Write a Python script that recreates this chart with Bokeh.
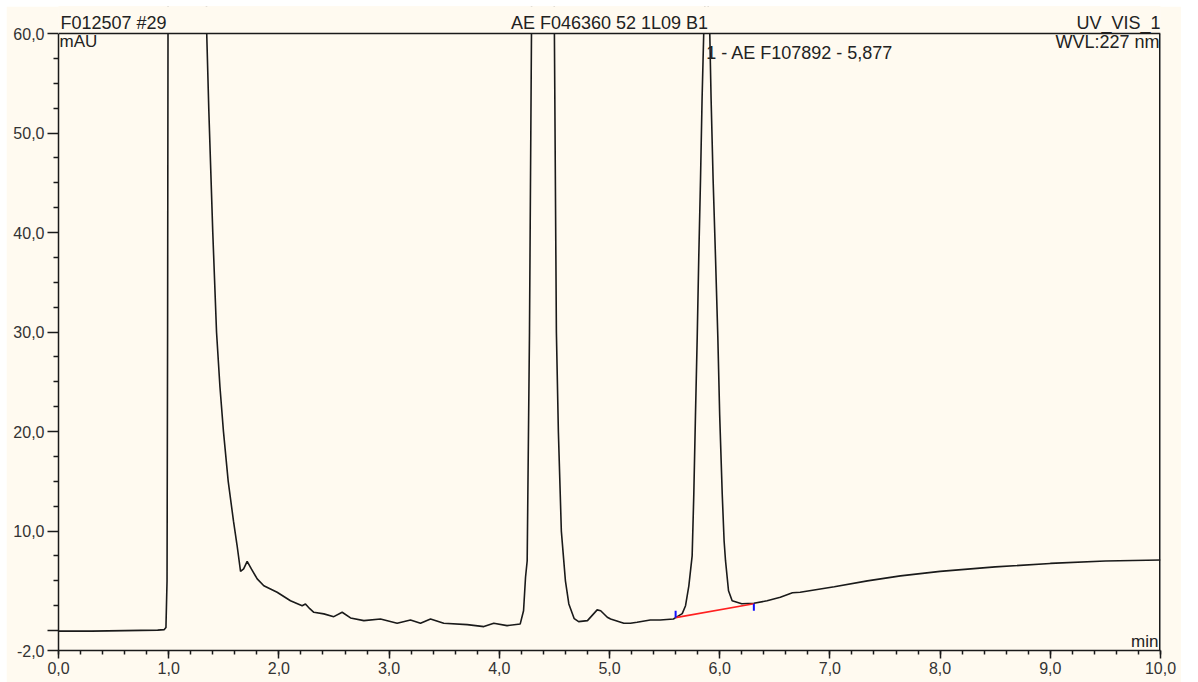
from bokeh.plotting import figure
from bokeh.models import (Range1d, FixedTicker, SingleIntervalTicker, CustomJSTickFormatter,
                          Label, Spacer, ColumnDataSource, BoxAnnotation, Span)
from bokeh.layouts import row, column
from bokeh.embed import file_html
from bokeh.resources import INLINE

# ---------------- data ----------------
time_min = [0.00, 0.30, 0.60, 0.90, 0.96, 0.975, 0.985, 0.99, 0.995, 1.00, 1.15, 1.33,
            1.345, 1.364, 1.40, 1.434, 1.465, 1.497, 1.54, 1.588, 1.62, 1.652, 1.68, 1.712,
            1.75, 1.803, 1.863, 1.984, 2.105, 2.211, 2.241, 2.28, 2.317, 2.408, 2.498, 2.574,
            2.65, 2.771, 2.922, 3.073, 3.194, 3.285, 3.376, 3.496, 3.709, 3.86, 3.95, 4.07,
            4.19, 4.22, 4.238, 4.253, 4.274, 4.292, 4.31, 4.39, 4.48, 4.50, 4.518, 4.536,
            4.563, 4.60, 4.631, 4.68, 4.72, 4.80, 4.888, 4.92, 4.98, 5.01, 5.13, 5.19, 5.25,
            5.37, 5.46, 5.58, 5.60, 5.66, 5.69, 5.72, 5.75, 5.765, 5.78, 5.796, 5.81, 5.826,
            5.84, 5.855, 5.877, 5.90, 5.91, 5.922, 5.94, 5.962, 5.983, 6.00, 6.023, 6.04,
            6.053, 6.08, 6.113, 6.20, 6.31, 6.43, 6.55, 6.66, 6.73, 7.04, 7.34, 7.64, 8.0,
            8.5, 9.0, 9.5, 10.0]
signal_mau = [-0.05, -0.05, 0.0, 0.05, 0.1, 0.3, 5, 30, 70, 120, 400, 80,
              60, 52.3, 40.0, 30.0, 24.5, 20.0, 15.0, 11.0, 8.6, 5.96, 6.2, 6.96,
              6.2, 5.2, 4.5, 3.85, 3.0, 2.5, 2.68, 2.2, 1.84, 1.68, 1.4, 1.84,
              1.27, 1.0, 1.17, 0.74, 1.07, 0.74, 1.17, 0.74, 0.6, 0.4, 0.74, 0.5,
              0.67, 2.0, 5.36, 7.0, 30, 60, 120, 250, 100, 60, 30, 20,
              10, 5, 2.68, 1.2, 0.9, 1.0, 2.08, 2.0, 1.34, 1.17, 0.74, 0.74, 0.84,
              1.07, 1.07, 1.17, 1.3, 1.7, 2.5, 4.5, 7.5, 13.7, 21.6, 29.5, 37.5, 45.4,
              53.4, 60, 66, 62, 60, 53.4, 45.4, 37.5, 29.5, 21.6, 13.7, 9.0,
              7.0, 4.0, 3.0, 2.7, 2.75, 3.0, 3.35, 3.8, 3.85, 4.4, 5.0, 5.5, 5.95,
              6.4, 6.75, 7.0, 7.1]

# integration baseline of peak 1 and its delimiters
baseline_x = [5.60, 6.31]
baseline_y = [1.3, 2.7]
delim_x = [5.60, 6.31]
delim_y0 = [1.3, 2.7]
delim_y1 = [2.0, 2.0]

x_min, x_max = 0, 10
y_min, y_max = -2, 60
y_major_ticks = [-2, 0, 10, 20, 30, 40, 50, 60]
y_minor_ticks = [2.5, 5, 7.5, 12.5, 15, 17.5, 22.5, 25, 27.5, 32.5, 35, 37.5,
                 42.5, 45, 47.5, 52.5, 55, 57.5]

header_left = "F012507 #29"
header_center = "AE F046360 52 1L09 B1"
header_right = "UV_VIS_1"
y_unit = "mAU"
wavelength = "WVL:227 nm"
x_unit = "min"
peak_label = "1 - AE F107892 - 5,877"
peak_rt = 5.877

# ---------------- figure ----------------
CREAM = "#fffaf0"
FONT = "Liberation Sans"
TXT = "#222222"
DARK = "#1a1a1a"

# extra headroom above 60 holds the header line (covered by a cream box)
px_per_unit = 617.0 / (y_max - y_min)
y_top = y_max + 27.0 / px_per_unit

p = figure(width=1175, height=676, output_backend="svg", toolbar_location=None,
           title=None, x_range=Range1d(x_min, x_max), y_range=Range1d(y_min, y_top),
           min_border_left=52, min_border_right=21, min_border_top=0, min_border_bottom=32,
           background_fill_color=CREAM, border_fill_color=CREAM)
p.grid.visible = False
p.outline_line_color = None

# axes
p.xaxis.ticker = SingleIntervalTicker(interval=1, num_minor_ticks=5)
p.yaxis.ticker = FixedTicker(ticks=y_major_ticks, minor_ticks=y_minor_ticks)
p.xaxis.formatter = CustomJSTickFormatter(code="return tick.toFixed(1).replace('.', ',');")
p.yaxis.formatter = CustomJSTickFormatter(
    code="return tick === 0 ? '' : tick.toFixed(1).replace('.', ',');")
p.yaxis.bounds = (y_min, y_max)
for ax in (p.xaxis[0], p.yaxis[0]):
    ax.axis_line_color = DARK
    ax.axis_line_width = 1.5
    ax.major_tick_line_color = DARK
    ax.major_tick_line_width = 1.5
    ax.minor_tick_line_color = DARK
    ax.minor_tick_line_width = 1.5
    ax.major_tick_in = 0
    ax.minor_tick_in = 0
    ax.major_label_text_font = FONT
    ax.major_label_text_font_size = "16px"
    ax.major_label_text_color = "#333333"
p.xaxis.major_tick_out = 8
p.xaxis.minor_tick_out = 4
p.xaxis.major_label_standoff = 3
p.yaxis.major_tick_out = 11
p.yaxis.minor_tick_out = 5
p.yaxis.major_label_standoff = 3

# chromatogram trace
src = ColumnDataSource(dict(x=time_min, y=signal_mau))
p.line("x", "y", source=src, line_color=DARK, line_width=1.6)

# integration baseline + delimiters
p.line(baseline_x, baseline_y, line_color="#ff2020", line_width=1.6)
p.segment(x0=delim_x, y0=delim_y0, x1=delim_x, y1=delim_y1, line_color="#1010ff", line_width=2)

# right border of the plot area
p.segment(x0=[x_max], y0=[y_min], x1=[x_max], y1=[y_max], line_color=DARK, line_width=3)

# cover everything above the 60 mAU limit, then draw top border
p.add_layout(BoxAnnotation(bottom=y_max, top=y_top + 20, left=x_min - 1, right=x_max + 1,
                           fill_color=CREAM, fill_alpha=1.0, line_color=None))
p.add_layout(Span(location=y_top, dimension="width", line_color=CREAM, line_width=6))
p.add_layout(Span(location=y_max, dimension="width", line_color=DARK, line_width=1.5))

# texts
def lab(x, y, text, align, baseline, xo=0, yo=0, size="18px"):
    p.add_layout(Label(x=x, y=y, text=text, text_align=align, text_baseline=baseline,
                       x_offset=xo, y_offset=yo, text_font=FONT, text_font_size=size,
                       text_color=TXT))

lab(x_min, y_max, header_left, "left", "alphabetic", xo=2, yo=11)
lab((x_min + x_max) / 2, y_max, header_center, "center", "alphabetic", yo=11)
lab(x_max, y_max, header_right, "right", "alphabetic", xo=0, yo=11)
lab(x_min, y_max, y_unit, "left", "top", xo=1, yo=2, size="17px")
lab(x_max, y_max, wavelength, "right", "top", xo=-1, yo=2)
lab(x_max, y_min, x_unit, "right", "alphabetic", xo=-2, yo=9, size="17px")
lab(peak_rt, y_max, peak_label, "left", "alphabetic", xo=0, yo=-19)

layout = row(Spacer(width=6), column(Spacer(height=6), p))
open("out.html", "w").write(file_html(layout, INLINE))
